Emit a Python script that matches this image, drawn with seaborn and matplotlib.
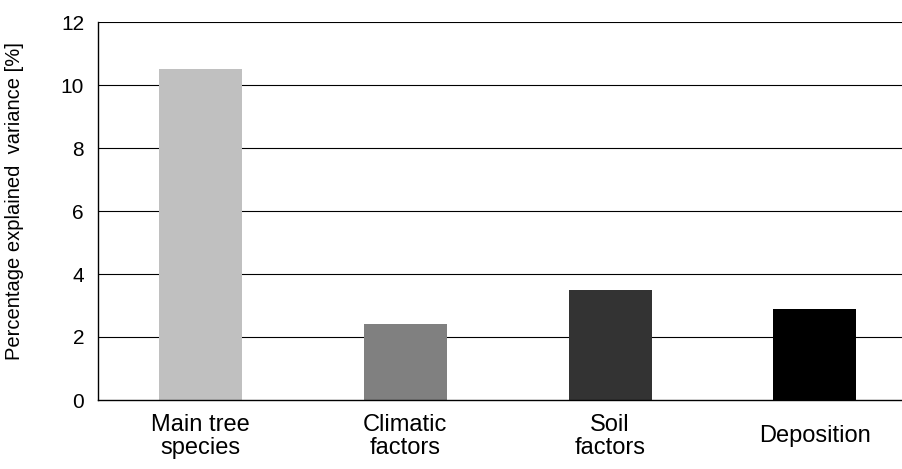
import numpy as np
import pandas as pd
import matplotlib
matplotlib.use("Agg")
import matplotlib.pyplot as plt
import seaborn as sns

# dados
categorias = ["Main tree\nspecies", "Climatic\nfactors", "Soil\nfactors", "Deposition"]
variancia = [10.5, 2.4, 3.5, 2.9]
cores = ["#c0c0c0", "#808080", "#333333", "#000000"]
yticks = [0, 2, 4, 6, 8, 10, 12]

df = pd.DataFrame({"categoria": categorias, "variancia": variancia})

sns.set_style("white")
plt.rcParams["font.family"] = ["Liberation Sans", "DejaVu Sans"]
plt.rcParams["text.color"] = "black"
plt.rcParams["xtick.color"] = "black"
plt.rcParams["ytick.color"] = "black"
plt.rcParams["axes.labelcolor"] = "black"

fig = plt.figure(figsize=(9.03, 4.69), dpi=100)
ax = fig.add_axes([98 / 903, 1 - 400 / 469, 1 - 98 / 903, 378 / 469])

sns.barplot(data=df, x="categoria", y="variancia", hue="categoria",
            palette=cores, legend=False, width=0.405, saturation=1,
            linewidth=0, ax=ax)

# grade horizontal
for v in yticks[1:]:
    ax.axhline(v, color="black", lw=0.8, zorder=0)

ax.set_yticks(yticks)
ax.tick_params(axis="y", labelsize=15, length=7, width=0.8, pad=3)

ax.set_xticks(range(len(categorias)))
ax.set_xticklabels(categorias, fontsize=17, va="center", linespacing=1.05)
ax.set_xticks(np.arange(-0.5, 4, 1), minor=True)
ax.tick_params(axis="x", which="major", length=0, pad=26)
ax.tick_params(axis="x", which="minor", length=4, width=0.8, direction="out")

# limites depois dos ticks (set_xticks expande a vista)
ax.set_ylim(0, 12)
ax.set_xlim(-0.5, 3.43)

ax.set_xlabel("")
ax.set_ylabel("Percentage explained  variance [%]", fontsize=14.5)
ax.yaxis.set_label_coords(-0.092, 0.526)

for s in ["top", "right"]:
    ax.spines[s].set_visible(False)
for s in ["left", "bottom"]:
    ax.spines[s].set_color("black")
    ax.spines[s].set_linewidth(1.0)

fig.savefig("out.png", dpi=100)
